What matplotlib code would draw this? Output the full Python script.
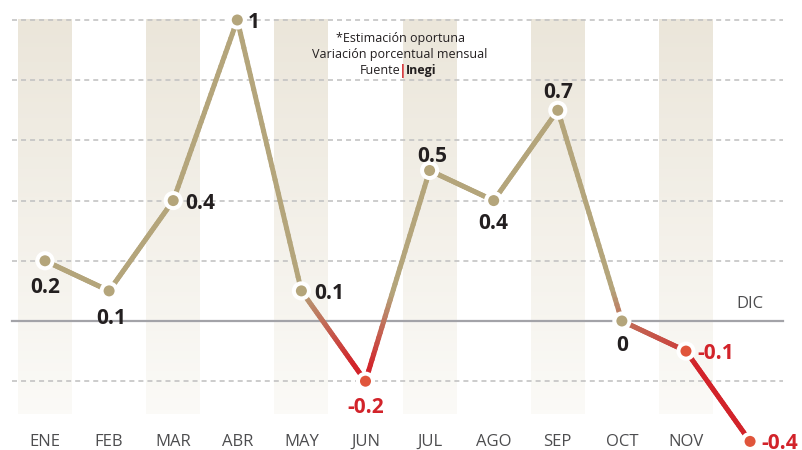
"""variacion mensual, grafico de linea con franjas
"""

import numpy as np
import matplotlib
matplotlib.use('Agg')
from matplotlib import pyplot
from matplotlib.collections import LineCollection
from matplotlib.colors import LinearSegmentedColormap, Normalize
from matplotlib import transforms

meses = ['ENE', 'FEB', 'MAR', 'ABR', 'MAY', 'JUN',
         'JUL', 'AGO', 'SEP', 'OCT', 'NOV', 'DIC']
variacion = [0.2, 0.1, 0.4, 1.0, 0.1, -0.2, 0.5, 0.4, 0.7, 0.0, -0.1, -0.4]
etiquetas = ['0.2', '0.1', '0.4', '1', '0.1', '-0.2',
             '0.5', '0.4', '0.7', '0', '-0.1', '-0.4']
rejilla = [-0.2, 0.2, 0.4, 0.6, 0.8, 1.0]
notas = ['*Estimación oportuna', 'Variación porcentual mensual']

TAN = '#b4a57b'
RED = '#d2232a'
RED_DOT = '#e0553b'
DARK = '#231f20'
GRAY_TXT = '#4d4d4f'

# donde va cada etiqueta respecto a su punto (px)
colocacion = [
    (0, -24, 'center'), (2, -25, 'center'), (12, 0, 'left'),
    (10, 0, 'left'), (13, 0, 'left'), (0, -24, 'center'),
    (3, 16, 'center'), (0, -20, 'center'), (0, 20, 'center'),
    (0, -22, 'center'), (11, 0, 'left'), (11, 0, 'left'),
]

pyplot.rcParams['font.family'] = ['Open Sans', 'DejaVu Sans']
pyplot.rcParams['lines.scale_dashes'] = False

fig = pyplot.figure(figsize=(8.02, 4.5), dpi=100)
ax = fig.add_axes([0, 0, 1, 1])
ax.axis('off')

x = np.arange(len(meses))
y = np.array(variacion)

# franjas con degradado
franja_cmap = LinearSegmentedColormap.from_list('franja', ['#fbfaf7', '#ebe6da'])
grad = np.linspace(0, 1, 100).reshape(-1, 1)
for i in x[::2]:
    ax.imshow(grad, cmap=franja_cmap, origin='lower', aspect='auto',
              extent=(i - 0.42, i + 0.42, -0.31, 1.0), zorder=0)

# rejilla
for g in rejilla:
    ax.plot([-0.52, 11.52], [g, g], color='#c3c3c3', lw=1.2,
            dashes=(3.6, 2.9), zorder=1)
ax.plot([-0.52, 11.52], [0, 0], color='#a3a3a8', lw=1.6, zorder=1)

# linea con degradado segun el valor
linea_cmap = LinearSegmentedColormap.from_list('linea', [RED, TAN])
norm = Normalize(-0.15, 0.1, clip=True)
segmentos = []
valores = []
for k in range(len(x) - 1):
    t = np.linspace(0, 1, 40)
    xs = x[k] + (x[k + 1] - x[k]) * t
    ys = y[k] + (y[k + 1] - y[k]) * t
    pts = np.column_stack([xs, ys])
    segmentos.extend(np.stack([pts[:-1], pts[1:]], axis=1))
    valores.extend((ys[:-1] + ys[1:]) / 2)
lc = LineCollection(segmentos, colors=linea_cmap(norm(np.array(valores))),
                    linewidths=3.6, capstyle='round', zorder=2)
ax.add_collection(lc)

colores = [TAN if v >= 0 else RED_DOT for v in variacion]
ax.scatter(x, y, s=118, c=colores, edgecolors='white', linewidths=2.9, zorder=3)

for xi, yi, txt, (dx, dy, ha) in zip(x, y, etiquetas, colocacion):
    ax.annotate(txt, (xi, yi), xytext=(dx, dy), textcoords='offset pixels',
                ha=ha, va='center_baseline', fontsize=15, fontweight='bold',
                color=DARK if yi >= 0 else RED, zorder=4)

# meses
trans = transforms.blended_transform_factory(ax.transData, ax.transAxes)
for xi, mes in zip(x[:-1], meses[:-1]):
    ax.text(xi, 0.022, mes, transform=trans, ha='center', va='center_baseline',
            fontsize=12, color=GRAY_TXT)
ax.text(x[-1], 0.062, meses[-1], ha='center', va='center_baseline',
        fontsize=12, color=GRAY_TXT)

# nota de la fuente
for k, nota in enumerate(notas):
    ax.text(0.4988, 0.918 - 0.036 * k, nota, transform=ax.transAxes,
            ha='center', va='center_baseline', fontsize=9, color=DARK)
ax.text(0.499, 0.846, 'Fuente', transform=ax.transAxes, ha='right',
        va='center_baseline', fontsize=9, color=DARK)
ax.text(0.5025, 0.846, '|', transform=ax.transAxes, ha='center',
        va='center_baseline', fontsize=10, fontweight='bold', color=RED)
ax.text(0.506, 0.846, 'Inegi', transform=ax.transAxes, ha='left',
        va='center_baseline', fontsize=9, fontweight='bold', color=DARK)

ax.set_xlim(-0.702, 11.81)
ax.set_ylim(-0.4286, 1.0664)

fig.savefig('out.png', dpi=100)
